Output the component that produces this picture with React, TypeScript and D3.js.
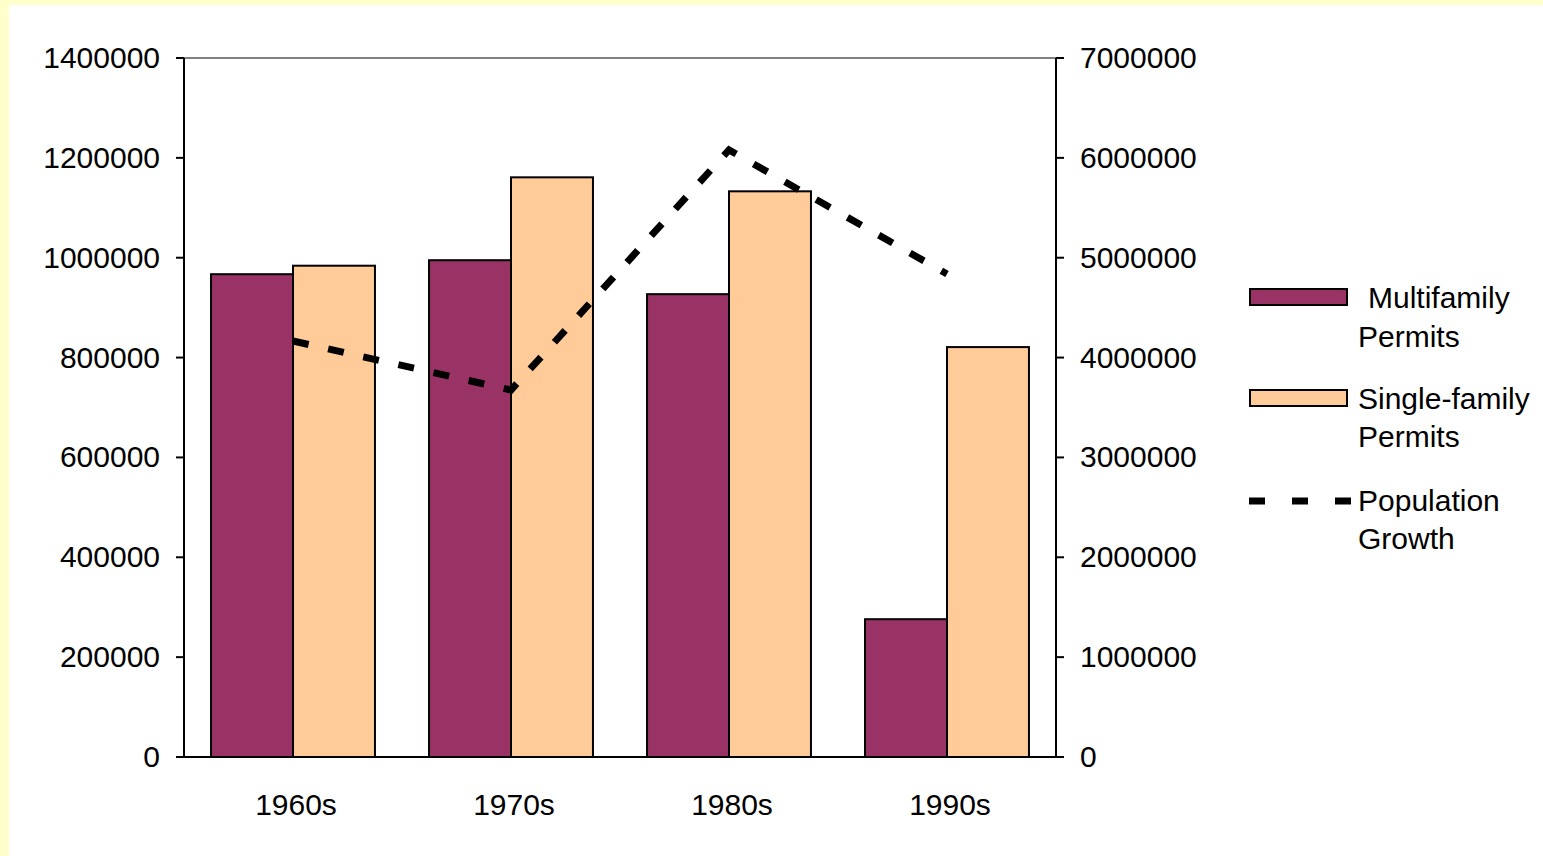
import React from "react";
import * as d3 from "d3";

const categories = ["1960s", "1970s", "1980s", "1990s"];
const multifamily = [967000, 995000, 927000, 276000];
const singleFamily = [984000, 1161000, 1133000, 821000];
const population = [4166000, 3675000, 6079000, 4837000];
const leftTicks = [0, 200000, 400000, 600000, 800000, 1000000, 1200000, 1400000];
const rightTicks = [0, 1000000, 2000000, 3000000, 4000000, 5000000, 6000000, 7000000];

export default function App() {
  const L = 184, R = 1056, T = 58, B = 757;
  const x = d3.scaleBand().domain(categories).range([L, R]).paddingInner(0.248).paddingOuter(0.124);
  const yL = d3.scaleLinear().domain([0, 1400000]).range([B, T]);
  const yR = d3.scaleLinear().domain([0, 7000000]).range([B, T]);
  const bw = x.bandwidth() / 2;
  const font = "'Liberation Sans', Arial, sans-serif";
  const fs = 30;
  const line = d3.line<number>().x((_, i) => x(categories[i])! + bw).y(d => yR(d));
  return (
    <svg width={1543} height={856} style={{ position: "absolute", left: 0, top: 0 }} fontFamily={font}>
      <rect width={1543} height={856} fill="#FFFFCC" />
      <rect x={9} y={5} width={1534} height={851} fill="#fff" />
      <line x1={L} x2={R} y1={T} y2={T} stroke="#808080" strokeWidth={2} />
      {categories.map((c, i) => (
        <g key={c}>
          <rect x={x(c)} y={yL(multifamily[i])} width={bw} height={B - yL(multifamily[i])} fill="#993366" stroke="#000" strokeWidth={2} />
          <rect x={x(c)! + bw} y={yL(singleFamily[i])} width={bw} height={B - yL(singleFamily[i])} fill="#FFCC99" stroke="#000" strokeWidth={2} />
          <text x={x(c)! + bw + 3} y={815} fontSize={fs} textAnchor="middle">{c}</text>
        </g>
      ))}
      <path d={line(population)!} fill="none" stroke="#000" strokeWidth={7} strokeDasharray="16 20" />
      <line x1={L} x2={L} y1={T} y2={B} stroke="#000" strokeWidth={2} />
      <line x1={R} x2={R} y1={T} y2={B} stroke="#000" strokeWidth={2} />
      <line x1={L} x2={R} y1={B} y2={B} stroke="#000" strokeWidth={2} />
      {leftTicks.map(t => (
        <g key={"l" + t}>
          <line x1={L - 8} x2={L} y1={yL(t)} y2={yL(t)} stroke="#000" strokeWidth={2} />
          <text x={160} y={yL(t) + 10} fontSize={fs} textAnchor="end">{t}</text>
        </g>
      ))}
      {rightTicks.map(t => (
        <g key={"r" + t}>
          <line x1={R} x2={R + 8} y1={yR(t)} y2={yR(t)} stroke="#000" strokeWidth={2} />
          <text x={1080} y={yR(t) + 10} fontSize={fs}>{t}</text>
        </g>
      ))}
      <rect x={1250} y={289} width={97} height={16} fill="#993366" stroke="#000" strokeWidth={2} />
      <text x={1368} y={308} fontSize={fs}>Multifamily</text>
      <text x={1358} y={347} fontSize={fs}>Permits</text>
      <rect x={1250} y={390} width={97} height={16} fill="#FFCC99" stroke="#000" strokeWidth={2} />
      <text x={1358} y={409} fontSize={fs}>Single-family</text>
      <text x={1358} y={447} fontSize={fs}>Permits</text>
      <line x1={1249} x2={1352} y1={501} y2={501} stroke="#000" strokeWidth={7} strokeDasharray="16 27" />
      <text x={1358} y={511} fontSize={fs}>Population</text>
      <text x={1358} y={549} fontSize={fs}>Growth</text>
    </svg>
  );
}
